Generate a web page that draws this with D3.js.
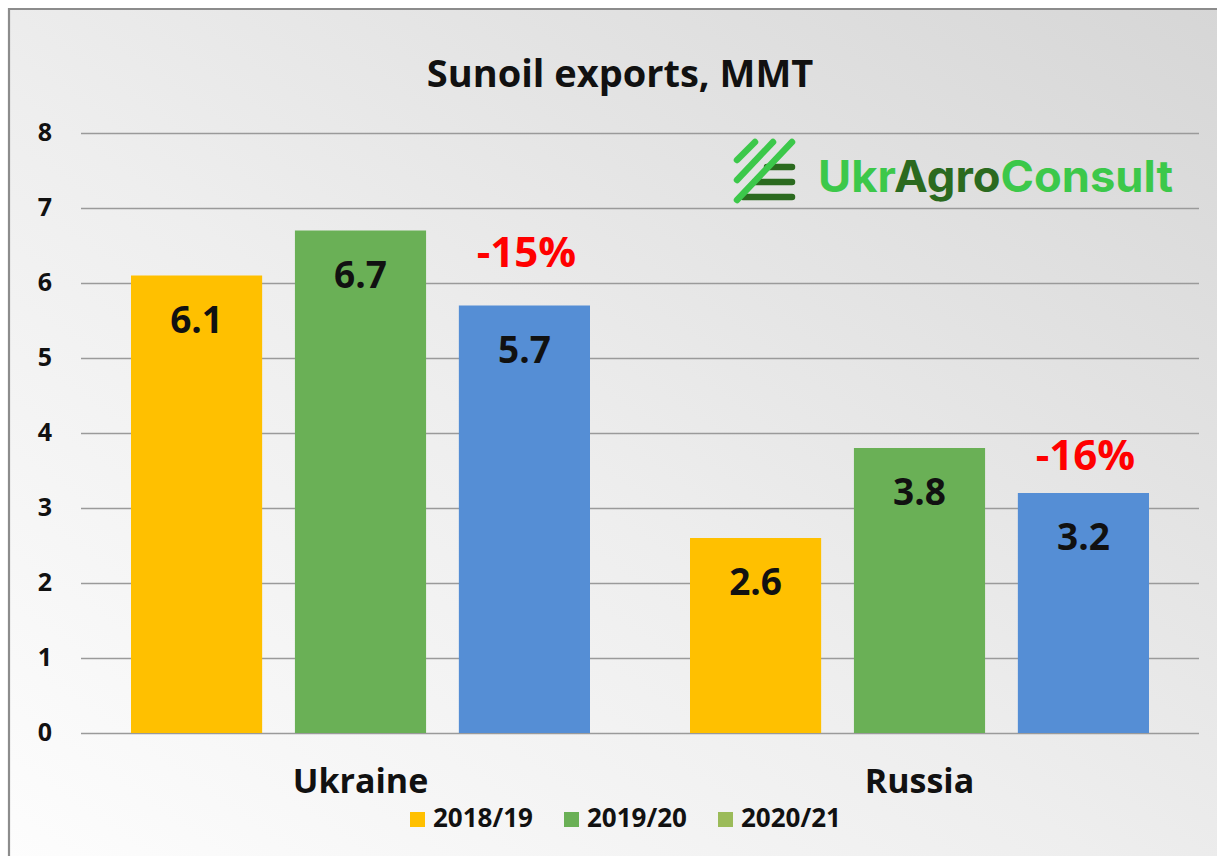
<!DOCTYPE html>
<html>
<head>
<meta charset="utf-8">
<script src="https://cdn.jsdelivr.net/npm/d3@7"></script>
<style>
  html, body { margin: 0; padding: 0; background: #ffffff; }
  svg { display: block; font-family: "Open Sans", "Noto Sans", sans-serif; }
</style>
</head>
<body>
<svg id="chart" width="1217" height="856"></svg>
<script>
// Sunflower oil exports by marketing year, million metric tons
const countries = ["Ukraine", "Russia"];
const seasons = ["2018/19", "2019/20", "2020/21"];
const ukraineValues = [6.1, 6.7, 5.7];
const russiaValues = [2.6, 3.8, 3.2];
const yTicks = [0, 1, 2, 3, 4, 5, 6, 7, 8];
const barColors = ["#FFC000", "#6AB056", "#558ED5"];
const legendColors = ["#FFC000", "#6AB056", "#9BBB59"];
// y-level (in MMT) of the baseline of each change callout
const calloutLevels = [6.21, 3.51];

const seriesByCountry = [ukraineValues, russiaValues];

const svg = d3.select("#chart");
const W = 1217, H = 856;

// background gradient
const defs = svg.append("defs");
const bg = defs.append("linearGradient").attr("id", "bg")
  .attr("x1", "0%").attr("y1", "100%").attr("x2", "100%").attr("y2", "0%");
bg.append("stop").attr("offset", "0%").attr("stop-color", "#fdfdfd");
bg.append("stop").attr("offset", "45%").attr("stop-color", "#eeeeee");
bg.append("stop").attr("offset", "100%").attr("stop-color", "#d6d6d6");

svg.append("rect").attr("x", 9).attr("y", 9).attr("width", W).attr("height", H)
  .attr("fill", "url(#bg)");
svg.append("path").attr("d", `M9,${H + 10}V9H${W + 10}`)
  .attr("fill", "none").attr("stroke", "#8c8c8c").attr("stroke-width", 2.2);

const plot = { left: 81, right: 1199, top: 133, bottom: 733 };

const y = d3.scaleLinear().domain([0, 8]).range([plot.bottom, plot.top]);
const x0 = d3.scaleBand().domain(countries).range([plot.left, plot.right])
  .paddingInner(100 / 559).paddingOuter(50 / 559);
const x1 = d3.scaleBand().domain(seasons).range([0, x0.bandwidth()]).paddingInner(0.2);

// gridlines
const grid = svg.append("g").attr("class", "grid");
grid.selectAll("line").data(yTicks).join("line")
  .attr("x1", plot.left).attr("x2", plot.right)
  .attr("y1", d => y(d) + 0.5).attr("y2", d => y(d) + 0.5)
  .attr("stroke", "#9a9a9a").attr("stroke-width", 1.3);

// y axis tick labels
const yAxis = d3.axisLeft(y).tickValues(yTicks).tickSize(0).tickPadding(0);
const yg = svg.append("g").attr("transform", `translate(45,0)`).call(yAxis);
yg.select(".domain").remove();
yg.selectAll("text").attr("font-size", 25).attr("font-weight", 700)
  .attr("fill", "#111").attr("font-family", "'Open Sans', sans-serif")
  .attr("text-anchor", "middle").attr("x", 0).attr("dy", null).attr("y", 7);

// bars
const groups = svg.append("g").selectAll("g").data(countries).join("g")
  .attr("transform", d => `translate(${x0(d)},0)`);

groups.selectAll("rect")
  .data((c, i) => seriesByCountry[i].map((v, j) => ({ season: seasons[j], value: v, j })))
  .join("rect")
  .attr("x", d => x1(d.season))
  .attr("width", x1.bandwidth())
  .attr("y", d => y(d.value))
  .attr("height", d => y(0) - y(d.value))
  .attr("fill", d => barColors[d.j]);

// value labels inside bars
groups.selectAll("text.val")
  .data((c, i) => seriesByCountry[i].map((v, j) => ({ season: seasons[j], value: v })))
  .join("text").attr("class", "val")
  .attr("x", d => x1(d.season) + x1.bandwidth() / 2)
  .attr("y", d => y(d.value) + 57)
  .attr("text-anchor", "middle")
  .attr("font-size", 37).attr("font-weight", 700).attr("fill", "#111")
  .text(d => d3.format(".1f")(d.value));

// season-over-season change callouts
groups.append("text")
  .attr("x", x1(seasons[2]) + x1.bandwidth() / 2 + 2)
  .attr("y", (c, i) => y(calloutLevels[i]))
  .attr("text-anchor", "middle")
  .attr("font-size", 42).attr("font-weight", 700).attr("fill", "#FF0000")
  .text((c, i) => {
    const v = seriesByCountry[i];
    return d3.format(".0%")((v[2] - v[1]) / v[1]).replace("−", "-");
  });

// category labels
svg.append("g").selectAll("text").data(countries).join("text")
  .attr("x", d => x0(d) + x0.bandwidth() / 2)
  .attr("y", 793)
  .attr("text-anchor", "middle")
  .attr("font-size", 34).attr("font-weight", 700).attr("fill", "#111")
  .text(d => d);

// title
svg.append("text").attr("x", 620).attr("y", 87).attr("text-anchor", "middle")
  .attr("font-size", 38).attr("font-weight", 700).attr("fill", "#111")
  .text("Sunoil exports, MMT");

// legend
const legend = svg.append("g").attr("transform", "translate(410,812)");
const li = legend.selectAll("g").data(seasons).join("g")
  .attr("transform", (d, i) => `translate(${i * 154},0)`);
li.append("rect").attr("width", 15).attr("height", 15)
  .attr("fill", (d, i) => legendColors[i]);
li.append("text").attr("x", 23).attr("y", 15)
  .attr("font-size", 26).attr("font-weight", 700).attr("fill", "#111")
  .text(d => d);

// UkrAgroConsult logo
const logo = svg.append("g");
const dark = "#2B6A1F", light = "#3CC84A";
[[767, 167], [755, 182], [743, 197]].forEach(([xs, yy]) => {
  logo.append("line").attr("x1", xs).attr("x2", 792)
    .attr("y1", yy).attr("y2", yy)
    .attr("stroke", dark).attr("stroke-width", 6.5).attr("stroke-linecap", "round");
});
[[737, 160, 755, 142], [737, 180, 773, 142], [737, 200, 792, 142]].forEach(([a, b, c, d]) => {
  logo.append("line").attr("x1", a).attr("y1", b).attr("x2", c).attr("y2", d)
    .attr("stroke", light).attr("stroke-width", 6.5).attr("stroke-linecap", "round");
});
const lt = logo.append("text").attr("x", 818).attr("y", 192)
  .attr("font-family", "Inter, Roboto, sans-serif")
  .attr("font-size", 44).attr("font-weight", 700)
  .attr("textLength", 355).attr("lengthAdjust", "spacingAndGlyphs");
lt.append("tspan").attr("fill", light).text("Ukr");
lt.append("tspan").attr("fill", dark).text("Agro");
lt.append("tspan").attr("fill", light).text("Consult");
</script>
</body>
</html>
